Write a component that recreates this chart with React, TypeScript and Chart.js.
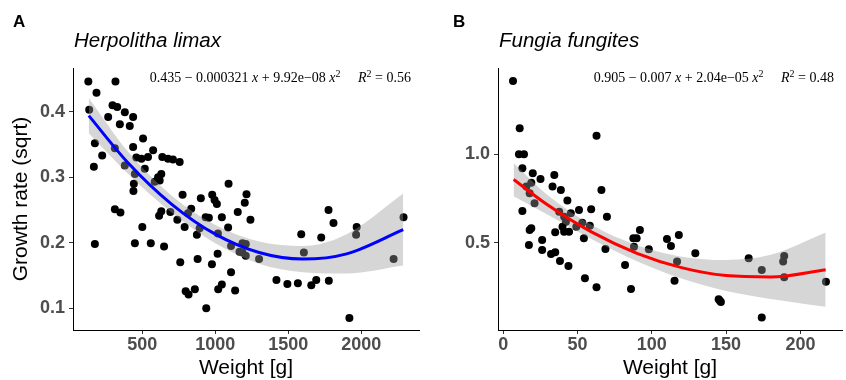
import React, { useEffect, useRef } from 'react';
import { Chart, registerables } from 'chart.js';

Chart.register(...registerables);

// ---------- Panel A: Herpolitha limax ----------
const limaxWeight = [
  130, 316, 186, 136, 296, 328, 380, 266, 437, 346, 414, 505, 175, 312, 437, 225, 574, 459, 494, 539,
  637, 676, 710, 756, 168, 380, 517, 449, 630, 608, 585, 619, 442, 1091, 439, 776, 901, 979, 995, 1011,
  1154, 312, 350, 630, 615, 692, 835, 813, 740, 934, 956, 1045, 500, 790, 893, 874, 1018, 1088, 1108, 1166,
  175, 449, 558, 649, 760, 879, 977, 1016, 1108, 797, 817, 860, 1020, 1045, 1136, 938, 1214, 1202, 1241, 1186,
  1209, 1186, 1209, 1300, 1419, 1494, 1566, 1658, 1692, 1778, 1589, 1607, 1726, 1776, 1810, 1969, 1965, 1919, 2222, 2290,
];
const limaxGrowth = [
  0.446, 0.446, 0.429, 0.403, 0.41, 0.407, 0.399, 0.392, 0.392, 0.381, 0.378, 0.359, 0.352, 0.344, 0.346, 0.333, 0.341, 0.33, 0.328, 0.331,
  0.331, 0.328, 0.327, 0.323, 0.316, 0.318, 0.313, 0.305, 0.305, 0.3, 0.293, 0.295, 0.29, 0.29, 0.279, 0.273, 0.268, 0.273, 0.265, 0.259,
  0.247, 0.251, 0.246, 0.248, 0.241, 0.247, 0.252, 0.245, 0.235, 0.239, 0.238, 0.239, 0.224, 0.224, 0.222, 0.212, 0.214, 0.223, 0.195, 0.186,
  0.198, 0.199, 0.199, 0.194, 0.17, 0.175, 0.167, 0.183, 0.155, 0.126, 0.121, 0.129, 0.129, 0.136, 0.127, 0.1, 0.274, 0.261, 0.235, 0.199,
  0.198, 0.185, 0.18, 0.175, 0.143, 0.137, 0.138, 0.135, 0.143, 0.142, 0.213, 0.185, 0.208, 0.25, 0.23, 0.224, 0.212, 0.085, 0.175, 0.239,
];
const limaxFitX = [133, 400, 700, 1000, 1300, 1600, 1900, 2288];
const limaxFit = [0.394, 0.3225, 0.259, 0.213, 0.185, 0.175, 0.183, 0.22];
const limaxUpper = [0.421, 0.3395, 0.272, 0.227, 0.202, 0.195, 0.213, 0.275];
const limaxLower = [0.367, 0.3055, 0.246, 0.199, 0.168, 0.155, 0.153, 0.165];
const limaxXTicks = [500, 1000, 1500, 2000];
const limaxYTicks = [0.1, 0.2, 0.3, 0.4];

// ---------- Panel B: Fungia fungites ----------
const fungiaWeight = [
  6.6, 11.1, 10.6, 14.0, 12.9, 19.9, 25.1, 18.9, 15.6, 17.8, 21.1, 34.4, 33.2, 38.8, 43.2, 12.9, 18.9, 17.8, 26.2, 17.3,
  26.2, 32.2, 35.0, 38.2, 43.9, 35.0, 39.9, 41.0, 44.3, 37.7, 41.0, 42.2, 45.5, 51.0, 49.2, 53.2, 54.3, 58.3, 59.2, 62.8,
  66.1, 69.8, 68.8, 55.0, 62.8, 82.0, 86.0, 87.6, 89.8, 92.0, 88.0, 98.0, 110.2, 112.9, 118.2, 117.0, 115.3, 129.3, 145.0, 145.8,
  146.5, 165.2, 174.0, 174.0, 189.1, 188.4, 189.1, 217.2,
];
const fungiaGrowth = [
  1.415, 1.147, 1.0, 1.0, 0.921, 0.893, 0.86, 0.839, 0.817, 0.779, 0.723, 0.883, 0.817, 0.798, 0.738, 0.679, 0.581, 0.572, 0.515, 0.487,
  0.459, 0.436, 0.446, 0.397, 0.368, 0.559, 0.59, 0.562, 0.562, 0.675, 0.647, 0.619, 0.666, 0.685, 0.59, 0.613, 0.525, 0.596, 0.689, 1.105,
  0.798, 0.647, 0.464, 0.299, 0.248, 0.374, 0.238, 0.525, 0.525, 0.572, 0.477, 0.463, 0.521, 0.481, 0.544, 0.393, 0.285, 0.44, 0.18, 0.172,
  0.165, 0.412, 0.346, 0.076, 0.425, 0.393, 0.304, 0.279,
];
const fungiaFitX = [7, 30, 60, 90, 120, 150, 180, 217];
const fungiaFit = [0.857, 0.713, 0.558, 0.44, 0.359, 0.314, 0.306, 0.347];
const fungiaUpper = [0.951, 0.768, 0.598, 0.485, 0.421, 0.402, 0.431, 0.557];
const fungiaLower = [0.763, 0.658, 0.518, 0.395, 0.297, 0.226, 0.181, 0.137];
const fungiaXTicks = [0, 50, 100, 150, 200];
const fungiaYTicks = [0.5, 1.0];

type Seg = { t: string; s: 'n' | 'i' | 'sup' };

const limaxEq: Seg[] = [
  { t: '0.435 \u2212 0.000321 ', s: 'n' }, { t: 'x', s: 'i' }, { t: ' + 9.92e\u221208 ', s: 'n' },
  { t: 'x', s: 'i' }, { t: '2', s: 'sup' }, { t: '     ', s: 'n' },
  { t: 'R', s: 'i' }, { t: '2', s: 'sup' }, { t: ' = 0.56', s: 'n' },
];
const fungiaEq: Seg[] = [
  { t: '0.905 \u2212 0.007 ', s: 'n' }, { t: 'x', s: 'i' }, { t: ' + 2.04e\u221205 ', s: 'n' },
  { t: 'x', s: 'i' }, { t: '2', s: 'sup' }, { t: '     ', s: 'n' },
  { t: 'R', s: 'i' }, { t: '2', s: 'sup' }, { t: ' = 0.48', s: 'n' },
];

const SANS = '"Liberation Sans", Arial, sans-serif';
const SERIF = '"Liberation Serif", "Times New Roman", serif';

interface PanelSpec {
  letter: string; letterX: number; title: string;
  xs: number[]; ys: number[];
  fitX: number[]; fit: number[]; upper: number[]; lower: number[];
  lineColor: string;
  xMin: number; xMax: number; yMin: number; yMax: number;
  xTicks: number[]; yTicks: number[]; yFmt: (v: number) => string;
  eq: Seg[]; yTitle?: string;
  width: number; leftW: number; padRight: number;
}

function drawEq(ctx: CanvasRenderingContext2D, segs: Seg[], right: number, baseline: number) {
  const fontOf = (s: Seg['s']) =>
    s === 'i' ? `italic 14px ${SERIF}` : s === 'sup' ? `10px ${SERIF}` : `14px ${SERIF}`;
  let w = 0;
  for (const g of segs) { ctx.font = fontOf(g.s); w += ctx.measureText(g.t).width; }
  let x = right - w;
  ctx.textAlign = 'left';
  ctx.textBaseline = 'alphabetic';
  for (const g of segs) {
    ctx.font = fontOf(g.s);
    ctx.fillText(g.t, x, g.s === 'sup' ? baseline - 5 : baseline);
    x += ctx.measureText(g.t).width;
  }
}

function Panel({ p }: { p: PanelSpec }) {
  const ref = useRef<HTMLCanvasElement>(null);
  useEffect(() => {
    const canvas = ref.current!;
    const pts = (xa: number[], ya: number[]) => xa.map((x, i) => ({ x, y: ya[i] }));
    const annot = {
      id: 'annot',
      afterDraw(chart: any) {
        const ctx: CanvasRenderingContext2D = chart.ctx;
        const a = chart.chartArea;
        ctx.save();
        ctx.fillStyle = '#000';
        ctx.textAlign = 'left';
        ctx.textBaseline = 'alphabetic';
        ctx.font = `bold 17px ${SANS}`;
        ctx.fillText(p.letter, p.letterX, 27);
        ctx.font = `italic 20.5px ${SANS}`;
        ctx.fillText(p.title, a.left + 1, 47);
        drawEq(ctx, p.eq, a.right - 8, 82);
        ctx.font = `21px ${SANS}`;
        ctx.textAlign = 'center';
        ctx.fillText('Weight [g]', (a.left + a.right) / 2, 374);
        if (p.yTitle) {
          ctx.save();
          ctx.translate(21, (a.top + a.bottom) / 2);
          ctx.rotate(-Math.PI / 2);
          ctx.textBaseline = 'middle';
          ctx.fillText(p.yTitle, 0, 0);
          ctx.restore();
        }
        ctx.restore();
      },
    };
    const tickFont = { family: SANS, size: 18, weight: 'bold' as const };
    const chart = new Chart(canvas, {
      type: 'scatter',
      data: {
        datasets: [
          { type: 'scatter', data: pts(p.xs, p.ys), backgroundColor: '#000', borderWidth: 0, pointRadius: 4, order: 4 } as any,
          { type: 'line', data: pts(p.fitX, p.upper), borderWidth: 0, pointRadius: 0, fill: '+1',
            backgroundColor: 'rgba(153,153,153,0.4)', borderColor: 'rgba(0,0,0,0)', cubicInterpolationMode: 'monotone', order: 3 } as any,
          { type: 'line', data: pts(p.fitX, p.lower), borderWidth: 0, pointRadius: 0, fill: false,
            borderColor: 'rgba(0,0,0,0)', cubicInterpolationMode: 'monotone', order: 2 } as any,
          { type: 'line', data: pts(p.fitX, p.fit), borderColor: p.lineColor, borderWidth: 3, pointRadius: 0, fill: false,
            cubicInterpolationMode: 'monotone', order: 1 } as any,
        ],
      },
      options: {
        animation: false,
        responsive: false,
        events: [],
        layout: { padding: { top: 68, right: p.padRight, left: 0, bottom: 0 } },
        plugins: { legend: { display: false }, tooltip: { enabled: false } },
        scales: {
          x: {
            type: 'linear', min: p.xMin, max: p.xMax,
            afterBuildTicks: (s: any) => { s.ticks = p.xTicks.map((v) => ({ value: v })); },
            afterFit: (s: any) => { s.height = 50; },
            ticks: { callback: (v: any) => String(v), font: tickFont, color: '#4d4d4d', padding: 0, maxRotation: 0, autoSkip: false },
            grid: { drawOnChartArea: false, tickLength: 4, color: '#333', lineWidth: 1 },
            border: { color: '#000', width: 1 },
          },
          y: {
            type: 'linear', min: p.yMin, max: p.yMax,
            afterBuildTicks: (s: any) => { s.ticks = p.yTicks.map((v) => ({ value: v })); },
            afterFit: (s: any) => { s.width = p.leftW; },
            ticks: { callback: (v: any) => p.yFmt(Number(v)), font: tickFont, color: '#4d4d4d', padding: 4, autoSkip: false },
            grid: { drawOnChartArea: false, tickLength: 4, color: '#333', lineWidth: 1 },
            border: { color: '#000', width: 1 },
          },
        },
      },
      plugins: [annot],
    } as any);
    return () => chart.destroy();
  }, [p]);
  return <canvas ref={ref} width={p.width} height={380} style={{ display: 'block' }} />;
}

const panelA: PanelSpec = {
  letter: 'A', letterX: 13, title: 'Herpolitha limax',
  xs: limaxWeight, ys: limaxGrowth, fitX: limaxFitX, fit: limaxFit, upper: limaxUpper, lower: limaxLower,
  lineColor: '#0000ff', xMin: 25, xMax: 2396, yMin: 0.0667, yMax: 0.4667,
  xTicks: limaxXTicks, yTicks: limaxYTicks, yFmt: (v) => v.toFixed(1),
  eq: limaxEq, yTitle: 'Growth rate (sqrt)', width: 423, leftW: 73, padRight: 3,
};

const panelB: PanelSpec = {
  letter: 'B', letterX: 30, title: 'Fungia fungites',
  xs: fungiaWeight, ys: fungiaGrowth, fitX: fungiaFitX, fit: fungiaFit, upper: fungiaUpper, lower: fungiaLower,
  lineColor: '#ff0000', xMin: -3.5, xMax: 228, yMin: 0.006, yMax: 1.488,
  xTicks: fungiaXTicks, yTicks: fungiaYTicks, yFmt: (v) => v.toFixed(1),
  eq: fungiaEq, width: 423, leftW: 75, padRight: 1,
};

export default function App() {
  return (
    <div style={{ position: 'absolute', left: 0, top: 0, width: 846, height: 380, display: 'flex', background: '#fff' }}>
      <Panel p={panelA} />
      <Panel p={panelB} />
    </div>
  );
}
